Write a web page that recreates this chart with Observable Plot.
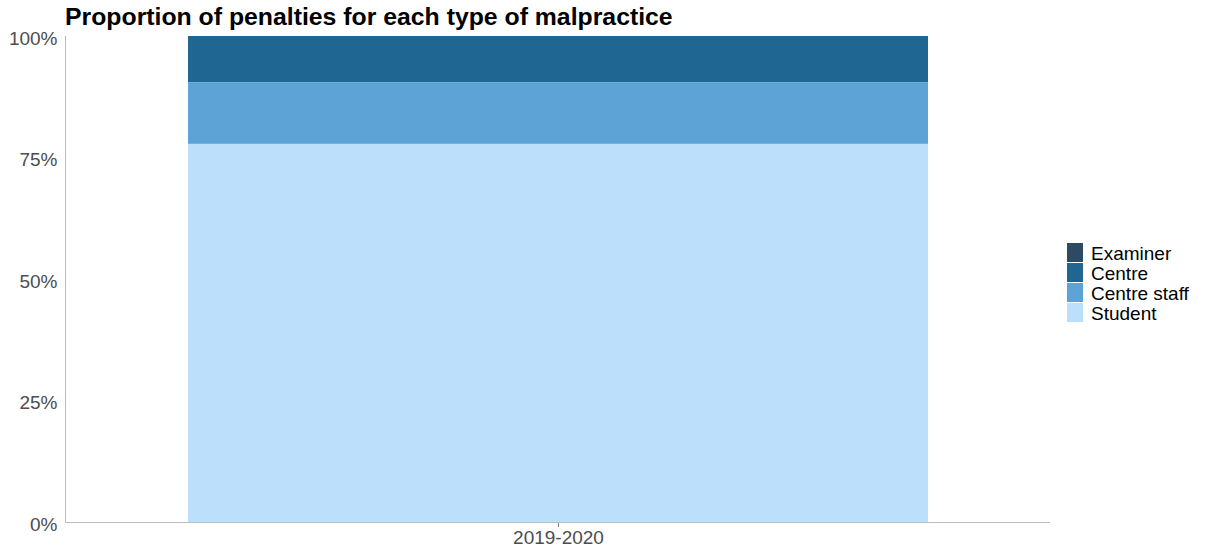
<!DOCTYPE html>
<html>
<head>
<meta charset="utf-8">
<script src="https://cdn.jsdelivr.net/npm/d3@7"></script>
<script src="https://cdn.jsdelivr.net/npm/@observablehq/plot@0.6"></script>
<style>
  body { margin: 0; background: #fff; font-family: "Liberation Sans", Arial, sans-serif; }
  #wrap { position: relative; width: 1206px; height: 548px; }
  #title { position: absolute; left: 65px; top: 1px; line-height: 32px; font-size: 24.8px; font-weight: bold; color: #000; white-space: nowrap; }
  #legend { position: absolute; left: 1067px; top: 243px; }
  .row { display: flex; align-items: center; height: 20px; }
  .sw { width: 16px; height: 19px; margin-right: 8px; margin-bottom: 1px; }
  .lab { font-size: 19px; color: #000; line-height: 20px; position: relative; top: 1px; }
</style>
</head>
<body>
<div id="wrap">
  <div id="chart"></div>
  <div id="title">Proportion of penalties for each type of malpractice</div>
  <div id="legend"></div>
</div>
<script>
const categories = ["2019-2020"];
const series = ["Examiner", "Centre", "Centre staff", "Student"];
const values = [0, 0.095, 0.127, 0.778];
const yTicks = [0, 0.25, 0.5, 0.75, 1];
const yTickLabels = ["0%", "25%", "50%", "75%", "100%"];
const colors = ["#2e4a63", "#1f6792", "#5ea3d6", "#bcdffc"];

const data = series.map((s, i) => ({ period: categories[0], type: s, value: values[i] }));

const chart = Plot.plot({
  width: 1206,
  height: 548,
  marginTop: 36,
  marginBottom: 26,
  marginLeft: 65,
  marginRight: 156,
  style: { fontFamily: "Liberation Sans, Arial, sans-serif", fontSize: "19px", color: "#4d4d4d", background: "#fff", overflow: "visible" },
  x: { domain: categories, padding: 0.142, label: null },
  y: { domain: [0, 1], label: null },
  color: { domain: series, range: colors },
  marks: [
    Plot.barY(data, {
      x: "period", y: "value", fill: "type",
      order: ["Student", "Centre staff", "Centre", "Examiner"]
    }),
    Plot.ruleY([0], { stroke: "#bdbdbd", strokeWidth: 1 }),
    Plot.frame({ anchor: "left", stroke: "#bdbdbd" }),
    Plot.axisY({ ticks: yTicks, tickFormat: (d) => yTickLabels[yTicks.indexOf(d)], tickSize: 0, tickPadding: 8, dy: 2, label: null, fill: "#4d4d4d" }),
    Plot.axisX({ tickSize: 4, tickPadding: 3, dy: 1, label: null, stroke: "#7f7f7f", fill: "#4d4d4d" })
  ]
});
document.getElementById("chart").appendChild(chart);

const legend = document.getElementById("legend");
series.forEach((s, i) => {
  const row = document.createElement("div");
  row.className = "row";
  const sw = document.createElement("div");
  sw.className = "sw";
  sw.style.background = colors[i];
  const lab = document.createElement("span");
  lab.className = "lab";
  lab.textContent = s;
  row.appendChild(sw);
  row.appendChild(lab);
  legend.appendChild(row);
});
</script>
</body>
</html>
